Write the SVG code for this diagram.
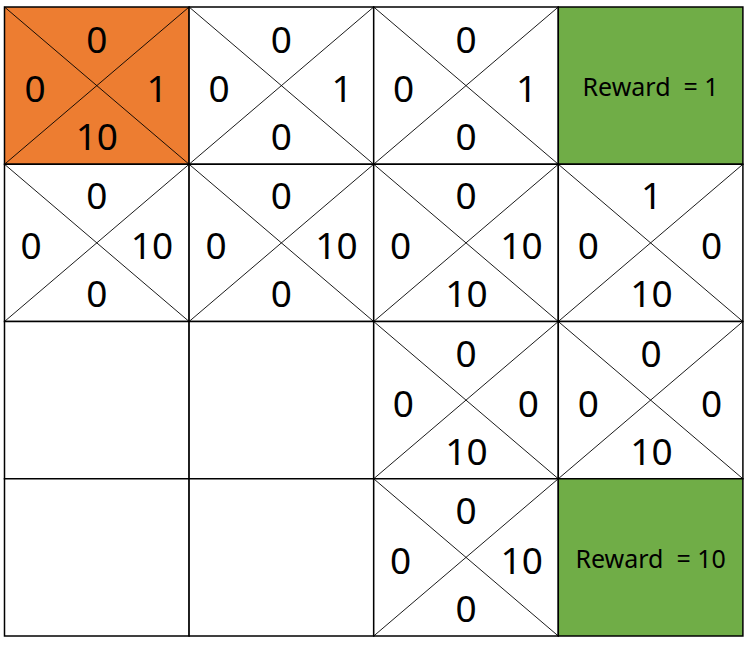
<svg xmlns="http://www.w3.org/2000/svg" width="751" height="645" viewBox="0 0 751 645">
<style>
.cell{fill:#fff;stroke:#000;stroke-width:1.5}
.org{fill:#ED7D31}
.grn{fill:#70AD47}
.d{stroke:#000;stroke-width:0.9}
.v{font-family:"Noto Sans","Open Sans","DejaVu Sans",sans-serif;font-size:37px;fill:#000;text-anchor:middle}
.r{font-family:"Noto Sans","Open Sans","DejaVu Sans",sans-serif;font-size:25px;fill:#000;text-anchor:middle;white-space:pre}
</style>
<rect width="751" height="645" fill="#fff"/>
<g id="cell-0-0">
<rect class="cell org" x="4.5" y="7" width="184.6" height="157.25"/>
<line class="d" x1="4.5" y1="7" x2="189.1" y2="164.25"/><line class="d" x1="189.1" y1="7" x2="4.5" y2="164.25"/>
<text class="v" x="96.8" y="52.5">0</text><text class="v" x="35" y="101.5">0</text><text class="v" x="157" y="101.5">1</text><text class="v" x="96.8" y="149.8">10</text>
</g>
<g id="cell-0-1">
<rect class="cell" x="189.1" y="7" width="184.6" height="157.25"/>
<line class="d" x1="189.1" y1="7" x2="373.7" y2="164.25"/><line class="d" x1="373.7" y1="7" x2="189.1" y2="164.25"/>
<text class="v" x="281.4" y="52.5">0</text><text class="v" x="219" y="101.5">0</text><text class="v" x="342" y="101.5">1</text><text class="v" x="281.4" y="149.8">0</text>
</g>
<g id="cell-0-2">
<rect class="cell" x="373.7" y="7" width="184.6" height="157.25"/>
<line class="d" x1="373.7" y1="7" x2="558.3" y2="164.25"/><line class="d" x1="558.3" y1="7" x2="373.7" y2="164.25"/>
<text class="v" x="466" y="52.5">0</text><text class="v" x="403.5" y="101.5">0</text><text class="v" x="526.7" y="101.5">1</text><text class="v" x="466" y="149.8">0</text>
</g>
<g id="cell-0-3">
<rect class="cell grn" x="558.3" y="7" width="184.6" height="157.25"/>
<text class="r" x="650.6" y="96">Reward  = 1</text>
</g>
<g id="cell-1-0">
<rect class="cell" x="4.5" y="164.25" width="184.6" height="157.25"/>
<line class="d" x1="4.5" y1="164.25" x2="189.1" y2="321.5"/><line class="d" x1="189.1" y1="164.25" x2="4.5" y2="321.5"/>
<text class="v" x="96.8" y="209.3">0</text><text class="v" x="31" y="258.7">0</text><text class="v" x="152" y="258.7">10</text><text class="v" x="96.8" y="307.2">0</text>
</g>
<g id="cell-1-1">
<rect class="cell" x="189.1" y="164.25" width="184.6" height="157.25"/>
<line class="d" x1="189.1" y1="164.25" x2="373.7" y2="321.5"/><line class="d" x1="373.7" y1="164.25" x2="189.1" y2="321.5"/>
<text class="v" x="281.4" y="209.3">0</text><text class="v" x="216" y="258.7">0</text><text class="v" x="336.5" y="258.7">10</text><text class="v" x="281.4" y="307.2">0</text>
</g>
<g id="cell-1-2">
<rect class="cell" x="373.7" y="164.25" width="184.6" height="157.25"/>
<line class="d" x1="373.7" y1="164.25" x2="558.3" y2="321.5"/><line class="d" x1="558.3" y1="164.25" x2="373.7" y2="321.5"/>
<text class="v" x="466" y="209.3">0</text><text class="v" x="400.7" y="258.7">0</text><text class="v" x="521.5" y="258.7">10</text><text class="v" x="466.5" y="307.2">10</text>
</g>
<g id="cell-1-3">
<rect class="cell" x="558.3" y="164.25" width="184.6" height="157.25"/>
<line class="d" x1="558.3" y1="164.25" x2="742.9" y2="321.5"/><line class="d" x1="742.9" y1="164.25" x2="558.3" y2="321.5"/>
<text class="v" x="651.5" y="209.3">1</text><text class="v" x="588.3" y="258.7">0</text><text class="v" x="711.7" y="258.7">0</text><text class="v" x="651.5" y="307.2">10</text>
</g>
<g id="cell-2-0"><rect class="cell" x="4.5" y="321.5" width="184.6" height="157.25"/></g>
<g id="cell-2-1"><rect class="cell" x="189.1" y="321.5" width="184.6" height="157.25"/></g>
<g id="cell-2-2">
<rect class="cell" x="373.7" y="321.5" width="184.6" height="157.25"/>
<line class="d" x1="373.7" y1="321.5" x2="558.3" y2="478.75"/><line class="d" x1="558.3" y1="321.5" x2="373.7" y2="478.75"/>
<text class="v" x="466" y="367.3">0</text><text class="v" x="403.3" y="416.5">0</text><text class="v" x="528.3" y="416.5">0</text><text class="v" x="466.5" y="464.9">10</text>
</g>
<g id="cell-2-3">
<rect class="cell" x="558.3" y="321.5" width="184.6" height="157.25"/>
<line class="d" x1="558.3" y1="321.5" x2="742.9" y2="478.75"/><line class="d" x1="742.9" y1="321.5" x2="558.3" y2="478.75"/>
<text class="v" x="651" y="367.3">0</text><text class="v" x="588.3" y="416.5">0</text><text class="v" x="711.7" y="416.5">0</text><text class="v" x="651.5" y="464.9">10</text>
</g>
<g id="cell-3-0"><rect class="cell" x="4.5" y="478.75" width="184.6" height="157.25"/></g>
<g id="cell-3-1"><rect class="cell" x="189.1" y="478.75" width="184.6" height="157.25"/></g>
<g id="cell-3-2">
<rect class="cell" x="373.7" y="478.75" width="184.6" height="157.25"/>
<line class="d" x1="373.7" y1="478.75" x2="558.3" y2="636"/><line class="d" x1="558.3" y1="478.75" x2="373.7" y2="636"/>
<text class="v" x="466" y="523.5">0</text><text class="v" x="400.7" y="573.5">0</text><text class="v" x="521.7" y="573.5">10</text><text class="v" x="466" y="621.9">0</text>
</g>
<g id="cell-3-3">
<rect class="cell grn" x="558.3" y="478.75" width="184.6" height="157.25"/>
<text class="r" x="650.7" y="568.3">Reward  = 10</text>
</g>
<g id="connectors"></g>
</svg>
